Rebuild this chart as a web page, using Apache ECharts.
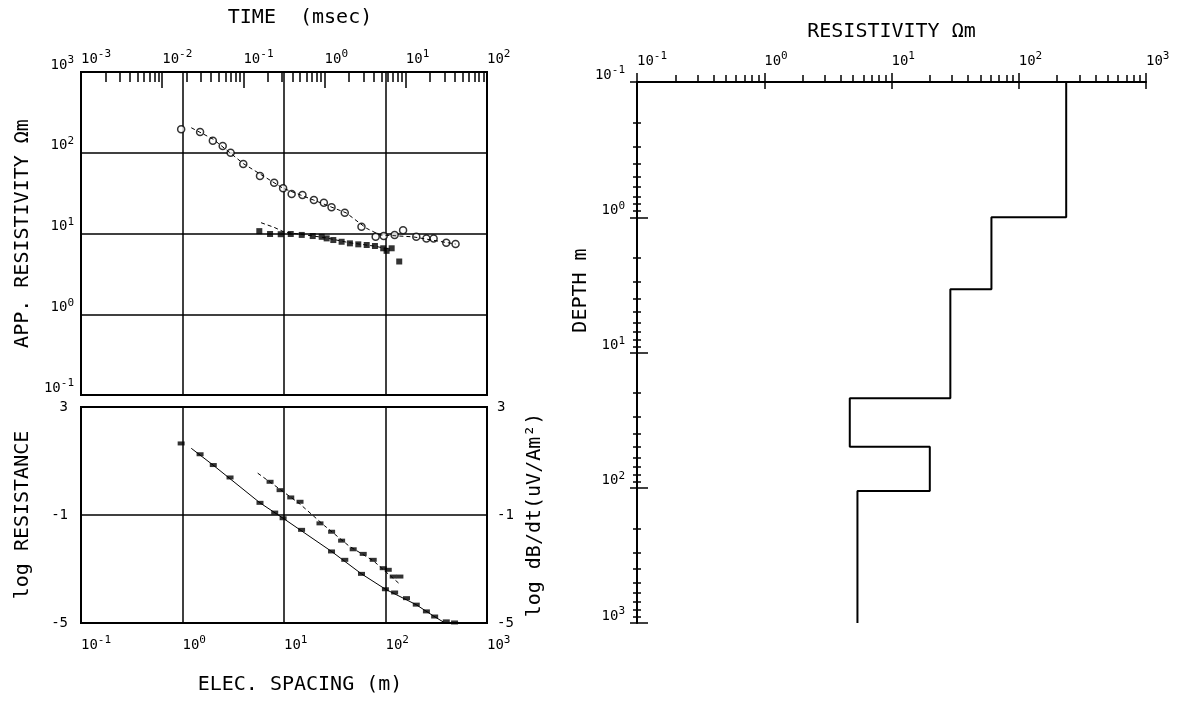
<!DOCTYPE html>
<html>
<head>
<meta charset="utf-8">
<title>Sounding</title>
<script src="https://cdn.jsdelivr.net/npm/echarts@6/dist/echarts.min.js"></script>
<style>
  html, body { margin: 0; padding: 0; background: #fff; }
  #main { width: 1180px; height: 702px; }
</style>
</head>
<body>
<div id="main"></div>
<script>
  'use strict';

  const FONT = 'DejaVu Sans Mono';

  // DC sounding: apparent resistivity (ohm-m) vs electrode spacing (m)
  const dcSpacing = [0.97, 1.49, 1.99, 2.49, 2.98, 3.97, 5.8, 8.0, 9.8, 11.9, 15.2, 19.7, 24.7, 29.4, 39.7, 58, 80, 96, 123, 149, 201, 253, 298, 397, 490];
  const dcAppRes = [195, 181, 141, 121, 100, 72.6, 51.5, 42.6, 36.3, 30.8, 30.0, 26.0, 24.1, 21.1, 18.1, 12.1, 9.1, 9.3, 9.6, 11, 9.1, 8.7, 8.7, 7.7, 7.4];
  // fitted curve through the DC points
  const dcFitSpacing = [1.22, 2.01, 4.0, 9.8, 19.5, 41, 65, 88, 186, 490];
  const dcFitRes = [204, 147, 73, 36.3, 26, 18, 11.6, 9.6, 9.1, 7.4];

  // TEM sounding: apparent resistivity vs time (msec)
  const temTime = [0.157, 0.213, 0.288, 0.383, 0.523, 0.714, 0.921, 1.06, 1.28, 1.62, 2.05, 2.6, 3.3, 4.17, 5.27, 5.8, 6.7, 8.3];
  const temAppRes = [10.7, 9.86, 9.8, 9.86, 9.6, 9.3, 9.1, 8.7, 8.3, 7.9, 7.55, 7.34, 7.2, 7.0, 6.56, 6.1, 6.56, 4.5];
  const temFitTime = [0.165, 0.24, 0.32, 0.5, 1.0, 2.0, 4.0, 6.5];
  const temFitRes = [13.6, 11.9, 10.4, 9.8, 8.9, 7.7, 7.0, 6.4];

  // lower panel: log resistance vs spacing
  const dcSpacingR = [0.97, 1.49, 2.01, 2.94, 5.8, 8.1, 9.8, 14.9, 29.4, 39.7, 58, 99.8, 123, 161, 201, 253, 305, 397, 479];
  const dcLogRes = [1.65, 1.25, 0.85, 0.39, -0.55, -0.91, -1.12, -1.55, -2.35, -2.66, -3.18, -3.75, -3.87, -4.08, -4.32, -4.57, -4.76, -4.94, -4.98];
  const dcFitSpacingR = [1.22, 2.0, 5.8, 9.8, 29.4, 58, 100, 200, 300, 461];
  const dcFitLogRes = [1.47, 0.85, -0.55, -1.12, -2.35, -3.18, -3.75, -4.32, -4.75, -5.18];

  // lower panel: log dB/dt vs time
  const temTimeV = [0.213, 0.283, 0.383, 0.498, 0.877, 1.22, 1.62, 2.25, 2.99, 3.97, 5.27, 6.08, 7.0, 8.46];
  const temLogV = [0.23, -0.08, -0.35, -0.51, -1.31, -1.62, -1.95, -2.27, -2.44, -2.66, -2.97, -3.03, -3.28, -3.28];
  const temFitTimeV = [0.15, 0.283, 0.5, 1.0, 2.0, 4.0, 8.5];
  const temFitLogV = [0.55, -0.05, -0.6, -1.4, -2.15, -2.7, -3.57];

  // layered model: resistivity of each layer and depth of the boundaries (m)
  const layerRes = [236, 61, 29, 4.7, 20, 5.4];
  const layerDepths = [0.1, 1.0, 3.4, 21.8, 49.7, 105.7, 1000];

  // decade exponents for the log axes
  const spacingDecades = [-1, 3];
  const timeDecades = [-3, 2];
  const resDecades = [-1, 3];
  const depthDecades = [-1, 3];
  const logResRange = [-5, 3];

  const log10 = Math.log10;
  const same = (v) => v;
  const black = '#000';

  function pairs(xs, ys, fx, fy) {
    return xs.map((x, i) => [fx(x), fy(ys[i])]);
  }

  function minorTicks(range) {
    let out = [];
    for (let d = range[0]; d < range[1]; d++) {
      for (let k = 2; k <= 9; k++) {
        out.push(d + log10(k));
      }
    }
    return out;
  }

  // build the step outline of the layered model
  let layerPath = [];
  layerRes.forEach((r, i) => {
    layerPath.push([log10(r), log10(layerDepths[i])]);
    layerPath.push([log10(r), log10(layerDepths[i + 1])]);
  });

  const decadeRich = {
    b: { fontFamily: FONT, fontSize: 14, color: black, verticalAlign: 'bottom' },
    s: { fontFamily: FONT, fontSize: 11, color: black, verticalAlign: 'top', padding: [0, 0, 6, 0] },
  };
  const decade = (v) => '{b|10}{s|' + Math.round(v) + '}';

  const nameStyle = { fontFamily: FONT, fontSize: 20, color: black };
  const frameLine = { show: true, onZero: false, lineStyle: { color: black, width: 2 } };
  const noLine = { show: false, onZero: false };
  const gridLine = { show: true, lineStyle: { color: black, width: 1.5 } };

  // an axis that only draws ticks (used to stack ticks on one axis)
  function tickAxis(extra, tick) {
    return Object.assign({
      type: 'value',
      axisLine: noLine,
      axisLabel: { show: false },
      splitLine: { show: false },
      axisTick: Object.assign({ show: true, lineStyle: { color: black, width: 1.5 } }, tick),
    }, extra);
  }

  let option = {
    animation: false,
    backgroundColor: '#fff',
    grid: [
      { left: 81, top: 72, width: 406, height: 323, show: true, borderColor: black, borderWidth: 2 },
      { left: 81, top: 407, width: 406, height: 216, show: true, borderColor: black, borderWidth: 2 },
      { left: 637, top: 82, width: 509, height: 541 },
    ],
    xAxis: [
      // 0: spacing, upper panel (grid only)
      {
        type: 'value', gridIndex: 0, position: 'bottom',
        min: spacingDecades[0], max: spacingDecades[1], interval: 1,
        axisLine: noLine, axisTick: { show: false }, axisLabel: { show: false },
        splitLine: gridLine,
      },
      // 1: time, upper panel
      {
        type: 'value', gridIndex: 0, position: 'top',
        min: timeDecades[0], max: timeDecades[1], interval: 1,
        axisLine: frameLine,
        axisTick: { show: true, inside: true, length: 16, lineStyle: { color: black, width: 1.5 } },
        axisLabel: { formatter: decade, rich: decadeRich, align: 'left', verticalAlign: 'bottom', margin: 6 },
        splitLine: { show: false },
        name: 'TIME  (msec)', nameLocation: 'middle', nameGap: 44,
        nameTextStyle: Object.assign({ padding: [0, 0, 0, 32] }, nameStyle),
      },
      // 2: time minor ticks
      tickAxis({ gridIndex: 0, position: 'top', min: timeDecades[0], max: timeDecades[1] },
        { inside: true, length: 10, customValues: minorTicks(timeDecades) }),
      // 3: spacing, lower panel
      {
        type: 'value', gridIndex: 1, position: 'bottom',
        min: spacingDecades[0], max: spacingDecades[1], interval: 1,
        axisLine: noLine, axisTick: { show: false },
        axisLabel: { formatter: decade, rich: decadeRich, align: 'left', verticalAlign: 'top', margin: 12 },
        splitLine: gridLine,
        name: 'ELEC. SPACING (m)', nameLocation: 'middle', nameGap: 52,
        nameTextStyle: Object.assign({ padding: [0, 0, 0, 32] }, nameStyle),
      },
      // 4: time, lower panel (hidden)
      {
        type: 'value', gridIndex: 1, position: 'top', show: false, axisLine: noLine,
        min: timeDecades[0], max: timeDecades[1],
      },
      // 5: resistivity, model panel
      {
        type: 'value', gridIndex: 2, position: 'top',
        min: resDecades[0], max: resDecades[1], interval: 1,
        axisLine: frameLine, axisTick: { show: false },
        axisLabel: { formatter: decade, rich: decadeRich, align: 'left', verticalAlign: 'bottom', margin: 14 },
        splitLine: { show: false },
        name: 'RESISTIVITY Ωm', nameLocation: 'middle', nameGap: 40, nameTextStyle: nameStyle,
      },
      // 6: major ticks across the line
      tickAxis({ gridIndex: 2, position: 'top', offset: -7, min: resDecades[0], max: resDecades[1], interval: 1 },
        { length: 16 }),
      // 7: minor ticks
      tickAxis({ gridIndex: 2, position: 'top', min: resDecades[0], max: resDecades[1] },
        { length: 7, customValues: minorTicks(resDecades) }),
    ],
    yAxis: [
      // 0: apparent resistivity
      {
        type: 'value', gridIndex: 0, position: 'left', min: -1, max: 3, interval: 1,
        axisLine: noLine, axisTick: { show: false },
        axisLabel: { formatter: decade, rich: decadeRich, verticalAlign: 'bottom', margin: 7 },
        splitLine: gridLine,
        name: 'APP. RESISTIVITY Ωm', nameLocation: 'middle', nameGap: 48, nameTextStyle: nameStyle,
      },
      // 1: log resistance
      {
        type: 'value', gridIndex: 1, position: 'left',
        min: logResRange[0], max: logResRange[1], interval: 4,
        axisLine: noLine, axisTick: { show: false },
        axisLabel: { fontFamily: FONT, fontSize: 14, color: black, margin: 13 },
        splitLine: gridLine,
        name: 'log RESISTANCE', nameLocation: 'middle', nameGap: 48, nameTextStyle: nameStyle,
      },
      // 2: log dB/dt
      {
        type: 'value', gridIndex: 1, position: 'right',
        min: logResRange[0], max: logResRange[1], interval: 4,
        axisLine: noLine, axisTick: { show: false },
        axisLabel: { fontFamily: FONT, fontSize: 14, color: black, margin: 10 },
        splitLine: { show: false },
        name: 'log dB/dt(uV/Am²)', nameLocation: 'middle', nameGap: 38, nameRotate: 90,
        nameTextStyle: nameStyle,
      },
      // 3: depth
      {
        type: 'value', gridIndex: 2, position: 'left', inverse: true,
        min: depthDecades[0], max: depthDecades[1], interval: 1,
        axisLine: frameLine, axisTick: { show: false },
        axisLabel: { formatter: decade, rich: decadeRich, verticalAlign: 'bottom', margin: 12 },
        splitLine: { show: false },
        name: 'DEPTH m', nameLocation: 'middle', nameGap: 44,
        nameTextStyle: Object.assign({ padding: [0, 0, 0, 124] }, nameStyle),
      },
      // 4: major ticks across the line
      tickAxis({ gridIndex: 2, position: 'left', inverse: true, offset: -11, min: depthDecades[0], max: depthDecades[1], interval: 1 },
        { length: 18 }),
      // 5: minor ticks across the line
      tickAxis({ gridIndex: 2, position: 'left', inverse: true, offset: -4, min: depthDecades[0], max: depthDecades[1] },
        { length: 8, customValues: minorTicks(depthDecades) }),
    ],
    series: [
      {
        type: 'line', xAxisIndex: 0, yAxisIndex: 0, symbol: 'none', silent: true,
        data: pairs(dcFitSpacing, dcFitRes, log10, log10),
        lineStyle: { color: black, width: 1, type: [4, 3] },
      },
      {
        type: 'scatter', xAxisIndex: 0, yAxisIndex: 0, symbol: 'circle', symbolSize: 7,
        data: pairs(dcSpacing, dcAppRes, log10, log10),
        itemStyle: { color: '#fff', borderColor: black, borderWidth: 1.5 },
      },
      {
        type: 'line', xAxisIndex: 1, yAxisIndex: 0, symbol: 'none', silent: true,
        data: pairs(temFitTime, temFitRes, log10, log10),
        lineStyle: { color: black, width: 1, type: [4, 3] },
      },
      {
        type: 'scatter', xAxisIndex: 1, yAxisIndex: 0, symbol: 'rect', symbolSize: 6,
        data: pairs(temTime, temAppRes, log10, log10),
        itemStyle: { color: black },
      },
      {
        type: 'line', xAxisIndex: 3, yAxisIndex: 1, symbol: 'none', silent: true,
        data: pairs(dcFitSpacingR, dcFitLogRes, log10, same),
        lineStyle: { color: black, width: 1 },
      },
      {
        type: 'scatter', xAxisIndex: 3, yAxisIndex: 1, symbol: 'rect', symbolSize: [7, 4],
        data: pairs(dcSpacingR, dcLogRes, log10, same),
        itemStyle: { color: black },
      },
      {
        type: 'line', xAxisIndex: 4, yAxisIndex: 2, symbol: 'none', silent: true,
        data: pairs(temFitTimeV, temFitLogV, log10, same),
        lineStyle: { color: black, width: 1, type: [4, 3] },
      },
      {
        type: 'scatter', xAxisIndex: 4, yAxisIndex: 2, symbol: 'rect', symbolSize: [7, 4],
        data: pairs(temTimeV, temLogV, log10, same),
        itemStyle: { color: black },
      },
      {
        type: 'line', xAxisIndex: 5, yAxisIndex: 3, symbol: 'none', silent: true,
        data: layerPath,
        lineStyle: { color: black, width: 2 },
      },
    ],
  };

  let myChart = echarts.init(document.getElementById('main'));
  myChart.setOption(option);
</script>
</body>
</html>
